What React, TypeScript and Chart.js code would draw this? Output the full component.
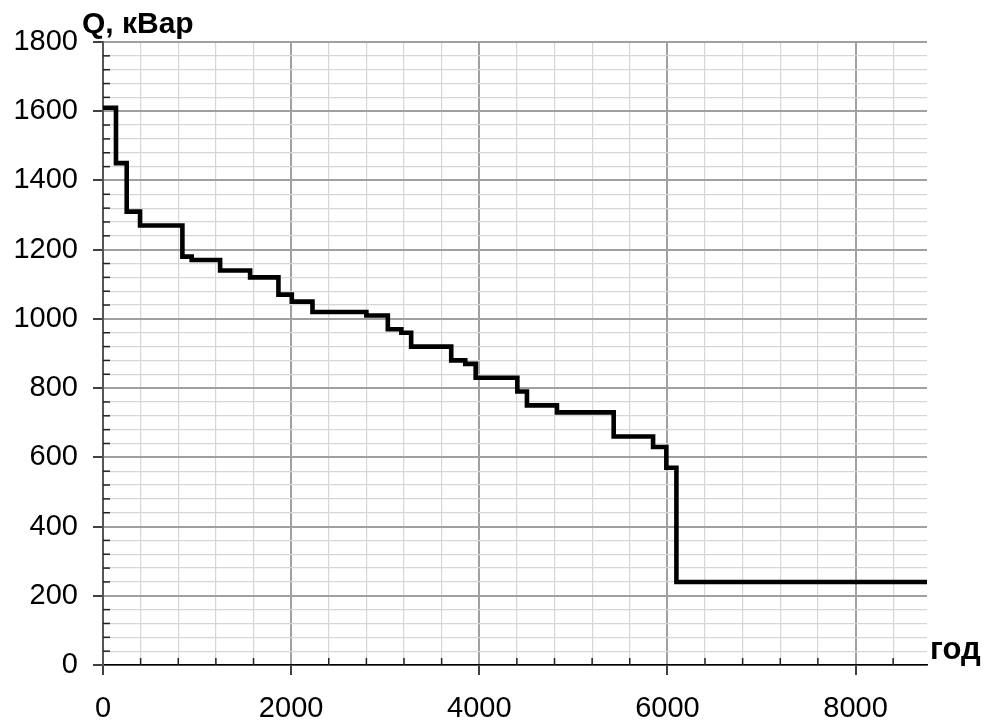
import React, { useEffect, useRef } from "react";
import { Chart, registerables } from "chart.js";

Chart.register(...registerables);

// Step start hours and reactive power values (кВар)
const stepHours = [0, 138, 252, 394, 844, 943, 1245, 1564, 1865, 2007, 2227, 2800, 3028, 3172, 3276, 3702, 3851, 3962, 4405, 4507, 4826, 5429, 5848, 5989, 6096, 8760];
const stepQ = [1610, 1450, 1310, 1270, 1180, 1170, 1140, 1120, 1070, 1050, 1020, 1010, 970, 960, 920, 880, 870, 830, 790, 750, 730, 660, 630, 570, 240, 240];

const xMax = 8760;
const yMax = 1800;
const xMajorTicks = [0, 2000, 4000, 6000, 8000];
const yMajorTicks = [0, 200, 400, 600, 800, 1000, 1200, 1400, 1600, 1800];
const xMinorStep = 400;
const yMinorStep = 40;
const yTitle = "Q, кВар";
const xTitle = "год";

const FONT = "'Liberation Sans', Arial, sans-serif";

function minorValues(step: number, maxV: number): number[] {
  const out: number[] = [];
  for (let v = 0; v <= maxV + 1e-9; v += step) out.push(v);
  return out;
}

export default function App() {
  const ref = useRef<HTMLCanvasElement | null>(null);

  useEffect(() => {
    const canvas = ref.current;
    if (!canvas) return;

    const xTickVals = minorValues(xMinorStep, xMax);
    const yTickVals = minorValues(yMinorStep, yMax);
    const isMajorX = (v: number) => xMajorTicks.includes(v);
    const isMajorY = (v: number) => yMajorTicks.includes(v);

    const decor = {
      id: "decor",
      beforeDatasetsDraw(chart: any) {
        const { ctx, chartArea, scales } = chart;
        const xs = scales.x;
        const ys = scales.y;
        ctx.save();
        ctx.strokeStyle = "#222";
        ctx.lineWidth = 1.5;
        for (const v of yTickVals) {
          if (isMajorY(v)) continue;
          const py = ys.getPixelForValue(v);
          ctx.beginPath();
          ctx.moveTo(chartArea.left, py);
          ctx.lineTo(chartArea.left + 7, py);
          ctx.stroke();
        }
        for (const v of xTickVals) {
          if (isMajorX(v)) continue;
          const px = xs.getPixelForValue(v);
          ctx.beginPath();
          ctx.moveTo(px, chartArea.bottom);
          ctx.lineTo(px, chartArea.bottom - 7);
          ctx.stroke();
        }
        ctx.restore();
      },
      afterDraw(chart: any) {
        const { ctx, chartArea } = chart;
        ctx.save();
        ctx.fillStyle = "#000";
        ctx.textAlign = "left";
        ctx.textBaseline = "alphabetic";
        ctx.font = `bold 30px ${FONT}`;
        ctx.fillText(yTitle, chartArea.left - 21, chartArea.top - 9);
        ctx.font = `bold 31px ${FONT}`;
        ctx.fillText(xTitle, chartArea.right + 3, chartArea.bottom - 6);
        ctx.restore();
      },
    };

    const points = stepHours.map((h, i) => ({ x: h, y: stepQ[i] }));

    const chart = new Chart(canvas, {
      type: "line",
      data: {
        datasets: [
          {
            data: points,
            stepped: "before",
            borderColor: "#000",
            borderWidth: 4.6,
            pointRadius: 0,
            fill: false,
            borderJoinStyle: "miter",
          } as any,
        ],
      },
      options: {
        animation: false,
        responsive: false,
        devicePixelRatio: 1,
        layout: { padding: { top: 42, right: 65, left: 0, bottom: 0 } },
        plugins: {
          legend: { display: false },
          tooltip: { enabled: false },
          title: { display: false },
        },
        scales: {
          x: {
            type: "linear",
            min: 0,
            max: xMax,
            afterBuildTicks(scale: any) {
              scale.ticks = xTickVals.map((v) => ({ value: v }));
            },
            afterFit(scale: any) {
              scale.height = 61;
            },
            ticks: {
              autoSkip: false,
              maxRotation: 0,
              minRotation: 0,
              padding: 17,
              color: "#000",
              font: { family: FONT, size: 29 },
              callback: (v: any) => (isMajorX(Number(v)) ? String(v) : ""),
            },
            grid: {
              color: (c: any) => (c.tick && isMajorX(c.tick.value) ? "#a0a0a0" : "#d6d6d6"),
              lineWidth: (c: any) => (c.tick && isMajorX(c.tick.value) ? 2 : 1.2),
              tickLength: 10,
              tickColor: (c: any) => (c.tick && isMajorX(c.tick.value) ? "#000" : "rgba(0,0,0,0)"),
              tickWidth: 1.5,
            },
            border: { display: true, color: "#000", width: 1.5 },
          },
          y: {
            type: "linear",
            min: 0,
            max: yMax,
            afterBuildTicks(scale: any) {
              scale.ticks = yTickVals.map((v) => ({ value: v }));
            },
            afterFit(scale: any) {
              scale.width = 103;
            },
            ticks: {
              autoSkip: false,
              padding: 15,
              color: "#000",
              font: { family: FONT, size: 29 },
              callback: (v: any) => (isMajorY(Number(v)) ? String(v) : ""),
            },
            grid: {
              color: (c: any) => (c.tick && isMajorY(c.tick.value) ? "#a0a0a0" : "#d6d6d6"),
              lineWidth: (c: any) => (c.tick && isMajorY(c.tick.value) ? 2 : 1.2),
              tickLength: 10,
              tickColor: (c: any) => (c.tick && isMajorY(c.tick.value) ? "#000" : "rgba(0,0,0,0)"),
              tickWidth: 1.5,
            },
            border: { display: true, color: "#555", width: 2 },
          },
        },
      },
      plugins: [decor],
    });

    return () => chart.destroy();
  }, []);

  return (
    <div style={{ position: "fixed", left: 0, top: 0, width: 992, height: 726, background: "#fff" }}>
      <canvas ref={ref} width={992} height={726} style={{ display: "block" }} />
    </div>
  );
}
